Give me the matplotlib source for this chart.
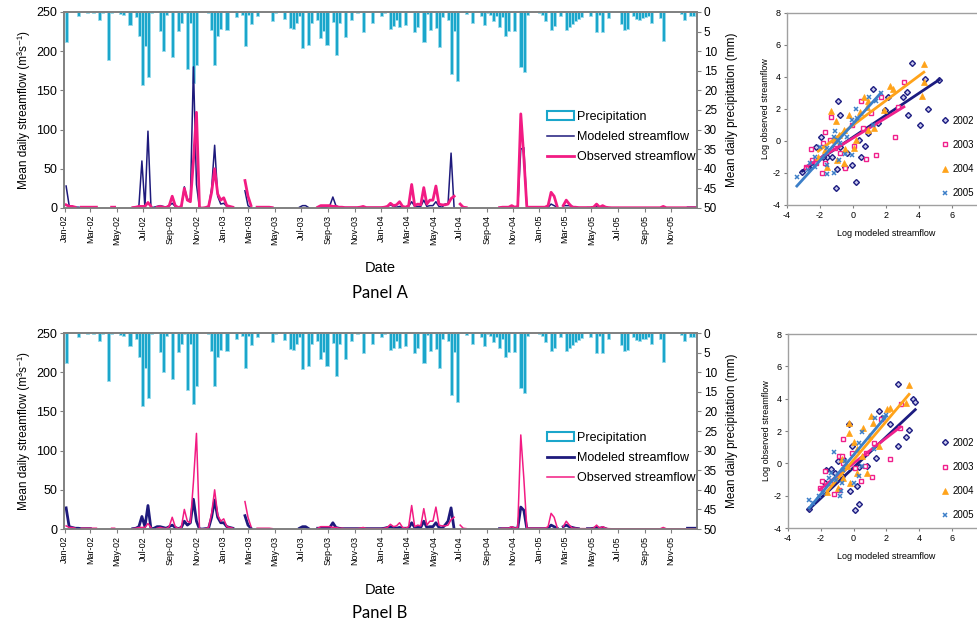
import numpy as np
import pandas as pd
import matplotlib
matplotlib.use("Agg")
import matplotlib.pyplot as plt
import matplotlib.dates as mdates
from matplotlib.patches import Patch
from matplotlib.lines import Line2D

plt.rcParams['font.family'] = ['Liberation Sans', 'DejaVu Sans']
plt.rcParams['axes.unicode_minus'] = False

nan = np.nan

# weekly series, Jan 2002 - Dec 2005 (one row = one quarter of a year)
weeks = pd.date_range("2002-01-01", periods=209, freq="7D")

precip = [
    7.7, 0, 0, 0, 0.9, 0, 0, 0.3, 0, 0.3, 0, 2.0, 0.3,
    0, 12.2, 0.3, 0, 0, 0.4, 0.8, 0, 3.2, 0, 1.4, 6.2, 18.7,
    8.8, 16.5, 0.3, 0, 0, 4.9, 9.9, 0.8, 0, 11.6, 0, 4.9, 2.7,
    0.3, 14.5, 2.7, 18.0, 13.4, 0, 0, 0, 0.3, 4.5, 13.4, 6.2, 4.3,
    0, 4.5, 0, 0, 1.4, 0, 0.7, 8.8, 0.7, 3.1, 0, 0.9, 0,
    0, 0, 0, 2.4, 0.3, 0, 0, 1.8, 0, 4.1, 4.3, 2.8, 0.9,
    9.2, 0, 8.5, 2.8, 0, 2.0, 6.6, 4.9, 8.3, 0, 2.6, 11.0, 2.8,
    0, 6.5, 0, 2.0, 0, 0.3, 0, 5.1, 0, 0, 2.8, 0, 0,
    0.9, 0.3, 0, 4.3, 3.7, 2.0, 3.9, 0, 3.2, 0, 0, 5.1, 3.9,
    0, 7.7, 0.5, 4.5, 0, 4.1, 9.0, 1.4, 0, 2.0, 15.8, 4.9, 17.5,
    0, 0, 0.5, 0, 2.8, 0, 0, 0.9, 3.2, 0.3, 0.7, 2.4, 0.9,
    3.9, 1.4, 6.2, 4.9, 0, 4.9, 0, 14.1, 15.3, 0.7, 0, 0, 0,
    0.3, 0.7, 2.4, 0, 4.5, 3.7, 0, 0.9, 0, 4.5, 3.9, 3.1, 2.4,
    1.7, 1.3, 0, 0, 0.9, 0, 5.1, 0.7, 5.1, 0, 1.5, 0, 0,
    0, 3.1, 4.5, 4.3, 0, 1.1, 1.7, 2.1, 1.5, 1.4, 0.9, 2.8, 0,
    0, 1.5, 7.5, 0, 0, 0, 0, 0, 0.5, 2.1, 0, 0.9, 0.9,
    0,
]

observed = [
    4, 2, 2, 1, nan, 1, 1, 1, 1, 1, 1, nan, nan,
    nan, nan, 1, 1, nan, nan, nan, nan, nan, 0.5, 1, 2, 2,
    2, 7, 2, nan, 1, 2, 1, 0.5, 3, 15, 3, 0.5, 2,
    25, 10, 8, 60, 122, 0, 0, 0.5, 2, 20, 50, 18, 10,
    13, 3, 2, 1, nan, nan, nan, 35, 15, 3, nan, 1, 1,
    1, 1, 1, 0.5, nan, nan, nan, nan, nan, nan, nan, nan, nan,
    nan, nan, nan, nan, nan, 1, 3, 3, 3, 3, 2, 2, 1,
    1, 0.5, 0.5, 0.5, 0.5, 0.5, 1, 2, 0.5, 0.5, 0.5, 0.5, 0.5,
    0.5, 1, 2, 6, 3, 4, 8, 2, 1, 3, 30, 3, 5,
    4, 26, 5, 10, 10, 28, 5, 4, 4, 5, 12, 15, nan,
    5, 1, 0.5, nan, nan, nan, nan, nan, nan, nan, nan, nan, nan,
    0.5, 1, 1, 1, 3, 1, 2, 120, 65, 1, 1, 1, 1,
    1, 1, 1, 3, 20, 15, 2, nan, 3, 10, 5, 1, 1,
    0.5, 0.5, 0.5, 0.5, 0.5, 1, 5, 1, 3, 1, 0.5, 0.3, 0.3,
    0.3, 0.3, 0.3, 0.3, 0.3, 0.3, 0.3, 0.3, 0.3, 0.3, 0.3, 0.3, 0.3,
    0.3, 0.3, 2, 0.3, 0.3, 0.3, 0.3, 0.3, 0.3, 0.3, 0.3, 0.3, 0.3,
    0.3,
]

modeled_a = [
    28, 3, 2, 1, 1, 0.5, 0.5, 0.5, 0.5, nan, nan, nan, nan,
    nan, nan, nan, nan, nan, nan, nan, nan, nan, 0.5, 1, 2, 60,
    0, 98, 0, 1, 2, 3, 2, 1, 3, 6, 2, 0.5, 1,
    27, 10, 12, 180, 30, 0, 0, 0.5, 1, 25, 80, 15, 5,
    6, 2, 1, 1, nan, nan, nan, 22, 3, 0.5, nan, nan, nan,
    nan, nan, nan, nan, nan, nan, nan, nan, nan, nan, nan, nan, 1,
    3, 3, 0.5, nan, nan, 1, 1, 1, 1, 3, 14, 3, 1,
    0.5, 0.5, 0.5, 0.5, 0.5, 0.5, 0.5, 1, 0.5, 0.5, 0.5, 0.5, 0.5,
    0.5, 1, 2, 4, 2, 1, 2, 1, 1, 2, 8, 2, 2,
    2, 10, 2, 3, 3, 8, 2, 1, 5, 5, 70, 0, nan,
    nan, nan, nan, nan, nan, nan, nan, nan, nan, nan, nan, nan, nan,
    0.5, 0.5, 0.5, 0.5, 2, 1, 1, 75, 77, 0.5, 0.5, 0.5, 0.5,
    0.5, 0.5, 0.5, 1, 5, 3, 1, nan, 3, 3, 3, 2, 1,
    0.5, nan, nan, 0.5, 0.5, 1, 2, 1, 2, 0.5, nan, nan, nan,
    nan, nan, nan, nan, nan, nan, nan, nan, nan, nan, nan, nan, nan,
    nan, nan, nan, nan, nan, nan, nan, nan, nan, nan, 1, 1, 1,
    1,
]

modeled_b = [
    27, 3, 2, 1, 1, 0.5, 0.5, 0.5, 0.5, nan, nan, nan, nan,
    nan, nan, nan, nan, nan, nan, nan, nan, nan, 0.5, 1, 3, 16,
    3, 30, 0, 1, 3, 3, 2, 1, 3, 5, 2, 0.5, 2,
    10, 5, 8, 38, 10, 0, 0, 0.5, 1, 15, 37, 15, 8,
    8, 3, 2, 1, nan, nan, nan, 17, 5, 1, nan, nan, nan,
    nan, nan, nan, nan, nan, nan, nan, nan, nan, nan, nan, nan, 1,
    3, 3, 0.5, nan, nan, 1, 1, 1, 1, 2, 8, 2, 1,
    0.5, 0.5, 0.5, 0.5, 0.5, 0.5, 0.5, 0.5, 0.5, 0.5, 0.5, 0.5, 0.5,
    0.5, 1, 2, 3, 2, 1, 2, 1, 1, 1, 8, 2, 2,
    2, 10, 2, 3, 3, 8, 2, 1, 5, 10, 27, 0, nan,
    nan, nan, nan, nan, nan, nan, nan, nan, nan, nan, nan, nan, nan,
    0.5, 0.5, 0.5, 0.5, 2, 1, 1, 28, 24, 0.5, 0.5, 0.5, 0.5,
    0.5, 0.5, 0.5, 1, 5, 3, 1, nan, 3, 5, 3, 2, 1,
    0.5, nan, nan, 0.5, 0.5, 1, 2, 1, 2, 0.5, nan, nan, nan,
    nan, nan, nan, nan, nan, nan, nan, nan, nan, nan, nan, nan, nan,
    nan, nan, nan, nan, nan, nan, nan, nan, nan, nan, 1, 1, 1,
    1,
]

# log-log scatter, panel A
years = ["2002", "2003", "2004", "2005"]
a02_x = [3.58, 4.37, 4.57, 4.06, 3.38, 3.27, 3.07, 2.14, 1.52, 1.21, -0.9, 0.73, 0.52, -0.07, 0.17, -1.0,
         -0.96, -1.93, -2.24, -0.45, -0.76, -0.34, -3.07, -1.58, 0.38, -0.76, -1.27, 0.9, 1.93, 5.24, -2.72, -1.79]
a02_y = [4.87, 3.89, 2.0, 1.0, 1.61, 3.05, 2.78, 2.74, 1.11, 3.24, 2.47, -0.29, -0.98, -1.5, -2.54, -2.92,
         -1.77, 0.23, -0.37, -1.6, -0.35, -0.77, -1.92, -0.98, 0.07, 1.63, -0.98, 0.48, 1.95, 3.82, -1.6, -1.0]
a03_x = [3.1, 1.72, 0.52, -1.33, -1.69, -1.38, -2.55, -1.69, -1.9, -2.24, -0.45, 0.07, 0.79, 1.41, 2.59,
         -0.03, 0.59, -0.76, -1.11, -1.79, 2.76, 1.1, -2.51, -2.82]
a03_y = [3.66, 2.74, 2.53, 1.53, 0.59, 0.07, -0.5, -1.4, -1.98, -1.4, -1.7, -0.29, -1.14, -0.89, 0.28,
         1.0, 0.8, -0.77, -0.46, -0.14, 2.11, 1.74, -1.19, -1.6]
a04_x = [4.31, 4.31, 4.2, 2.24, 2.45, 0.94, 0.84, 0.69, -0.24, 0.42, 1.89, -1.0, -1.33, -0.55, -0.82, 0.17,
         0.07, -0.49, -1.69, -0.96, -1.54, -0.55, -2.1, -1.07, 0.9, 1.31]
a04_y = [4.83, 3.66, 2.84, 3.45, 3.24, 2.47, 2.11, 2.78, 1.63, 1.84, 1.95, 1.28, 1.88, 0.69, 0.38, 0.07,
         -0.46, -0.5, -0.56, -1.19, -1.6, -1.35, -0.98, 0.07, 0.69, 0.8]
a05_x = [1.68, 0.96, 0.17, 0.28, -0.03, -1.07, -1.13, -0.92, -1.54, -1.99, -2.31, -2.62, -1.54, -1.54, -2.72,
         -3.4, -0.45, -0.82, -0.03, -1.17, -2.31, -0.76, -0.34, 1.21, 1.41]
a05_y = [2.99, 2.78, 1.99, 1.42, 1.32, 0.65, 0.28, 0.07, -0.46, -0.35, -1.02, -1.35, -1.5, -2.06, -1.81,
         -2.27, -0.81, -1.19, -0.87, -2.02, -1.65, -0.14, 0.28, 1.0, 2.47]
a_slope = [0.686, 0.63, 0.77, 1.14]
a_icpt = [0.23, 0.18, 0.98, 1.06]

# log-log scatter, panel B
b02_x = [2.72, 3.62, 3.77, 3.41, 3.2, 2.72, 2.2, 1.53, 1.74, 1.37, -0.3, -0.1, -0.62, 0.32, 0.22, -0.2,
         0.32, 0.07, -0.93, -1.35, -1.66, -1.14, -0.72, -2.71, -1.77, 0.84]
b02_y = [4.89, 3.96, 3.8, 2.06, 1.64, 1.06, 2.41, 3.24, 2.82, 0.34, 2.45, 1.06, 0.24, -0.22, -1.42, -1.73,
         -2.5, -2.87, 0.17, -0.34, -0.39, -0.6, -0.8, -2.83, -1.21, -0.18]
b03_x = [2.87, 1.68, 2.83, 2.2, 1.11, 0.43, 0.11, 0.7, -0.62, -0.89, -0.72, -1.72, -1.93, -1.18, -0.62,
         -0.1, 1.26, -1.45, -0.89, -2.06, 0.74]
b03_y = [3.69, 2.72, 2.2, 0.3, -0.86, -1.11, -0.28, -0.14, 1.52, 0.48, 0.44, -0.45, -1.11, -1.9, 0.03,
         0.65, 1.27, -1.21, -1.63, -1.52, 0.65]
b04_x = [3.39, 3.2, 2.2, 2.03, 1.05, 1.22, -0.3, -0.3, 0.57, 0.95, 0.01, 0.22, 0.53, -0.41, -0.66, -0.2,
         -0.93, -0.72, 0.84, 1.57, -1.6, 0.22]
b04_y = [4.83, 3.71, 3.45, 3.34, 2.93, 2.51, 2.51, 1.89, 2.2, 1.69, 1.33, 0.86, 0.44, -0.18, -0.9, -1.21,
         -1.52, 0.24, -0.59, 1.06, -1.79, -0.59]
b05_x = [1.89, 1.99, 1.32, 0.49, 0.36, -1.18, -0.51, -0.62, -1.35, -1.52, -0.78, -0.83, -2.08, -2.5, -2.71,
         0.01, 0.32, 0.49, -0.72, -1.87, -1.04, 1.26]
b05_y = [2.89, 2.97, 2.82, 1.93, 1.27, 0.69, 0.13, -0.39, -0.6, -0.9, -1.73, -2.04, -2.0, -2.46, -2.25,
         -1.21, -0.8, -0.18, -1.21, -1.83, -1.0, 0.86]
b_slope = [0.95, 0.786, 1.2, 1.21]
b_icpt = [-0.26, 0.0, 0.2, 0.51]

bar_col = '#1BA6CB'
bar_edge = '#9ADCEC'
navy = '#1E1A7C'
pink = '#F21B83'
grey = '#808080'
yr_colors = ['#1C1C80', '#F0208C', '#FFA31A', '#3C7FC8']

fig = plt.figure(figsize=(9.78, 6.24), dpi=100)


def streamflow_panel(rect, modeled, mod_lw, obs_lw):
    ax = fig.add_axes(rect)
    ax2 = ax.twinx()
    ax.set_zorder(ax2.get_zorder() + 1)
    ax.patch.set_visible(False)

    ax2.bar(weeks, precip, width=7, align='edge', color=bar_col,
            edgecolor=bar_edge, linewidth=0.6)
    ax2.set_ylim(50, 0)
    ax2.set_yticks(range(0, 51, 5))
    ax2.tick_params(axis='y', labelsize=8.5, length=3, color=grey, pad=2)
    ax2.set_ylabel('Mean daily precipitation (mm)', fontsize=8.5, labelpad=6)

    mid = weeks + pd.Timedelta(days=3)
    ax.plot(mid, modeled, color=navy, lw=mod_lw)
    ax.plot(mid, observed, color=pink, lw=obs_lw)
    ax.set_ylim(0, 250)
    ax.set_yticks(range(0, 251, 50))
    ax.set_xlim(pd.Timestamp('2001-12-30'), pd.Timestamp('2005-12-31'))
    ax.xaxis.set_major_locator(mdates.MonthLocator(bymonth=[1, 3, 5, 7, 9, 11]))
    ax.xaxis.set_major_formatter(mdates.DateFormatter('%b-%y'))
    ax.tick_params(axis='x', labelsize=6.5, rotation=90, length=3, color=grey, pad=2)
    ax.tick_params(axis='y', labelsize=9, length=3, color=grey, pad=2)
    ax.set_ylabel('Mean daily streamflow (m³s⁻¹)', fontsize=8.5, labelpad=4)

    for a in (ax, ax2):
        for s in a.spines.values():
            s.set_color(grey)
            s.set_linewidth(1.2)

    handles = [Patch(facecolor='white', edgecolor=bar_col, linewidth=1.5),
               Line2D([], [], color=navy, lw=mod_lw),
               Line2D([], [], color=pink, lw=obs_lw)]
    ax.legend(handles, ['Precipitation', 'Modeled streamflow', 'Observed streamflow'],
              loc='upper left', bbox_to_anchor=(0.755, 0.52), frameon=False,
              fontsize=9, handlelength=2.2, handleheight=0.7, handletextpad=0.2,
              labelspacing=0.65, borderaxespad=0)
    return ax


def scatter_panel(rect, xs_list, ys_list, slopes, icpts):
    ax = fig.add_axes(rect)
    styles = [dict(marker='D', ms=3, mfc='#C8C8EC', mec=yr_colors[0], mew=1.0),
              dict(marker='s', ms=3, mfc='white', mec=yr_colors[1], mew=1.0),
              dict(marker='^', ms=4, mfc=yr_colors[2], mec=yr_colors[2], mew=0.5),
              dict(marker='x', ms=3.5, mec=yr_colors[3], mew=1.1)]
    for xs, ys, m, b, st, c in zip(xs_list, ys_list, slopes, icpts, styles, yr_colors):
        ax.plot(xs, ys, ls='none', **st)
        xl = np.array([min(xs), max(xs)])
        ax.plot(xl, m * xl + b, color=c, lw=2)
    handles = [Line2D([], [], ls='none', **st) for st in styles]
    ax.legend(handles, years, loc='upper left', bbox_to_anchor=(0.755, 0.485),
              frameon=False, fontsize=7, handlelength=1.0, handletextpad=0.3,
              labelspacing=1.45, borderaxespad=0)
    ax.set_xlim(-4, 8)
    ax.set_ylim(-4, 8)
    ax.set_xticks(range(-4, 7, 2))
    ax.set_yticks(range(-4, 9, 2))
    ax.tick_params(labelsize=6.5, length=2.5, color=grey, pad=2)
    ax.set_xlabel('Log modeled streamflow', fontsize=6.5, labelpad=6)
    ax.set_ylabel('Log observed streamflow', fontsize=6.5, labelpad=2)
    for s in ax.spines.values():
        s.set_color('#A0A0A0')
        s.set_linewidth(1.0)
    return ax


streamflow_panel([0.0654, 0.6667, 0.6473, 0.3141], modeled_a, 1.1, 2.0)
streamflow_panel([0.0654, 0.1522, 0.6473, 0.3141], modeled_b, 2.0, 1.1)

scatter_panel([0.8047, 0.6715, 0.202, 0.3077],
              [a02_x, a03_x, a04_x, a05_x], [a02_y, a03_y, a04_y, a05_y], a_slope, a_icpt)
scatter_panel([0.8057, 0.1538, 0.201, 0.3109],
              [b02_x, b03_x, b04_x, b05_x], [b02_y, b03_y, b04_y, b05_y], b_slope, b_icpt)

fig.text(380 / 978, 1 - 268 / 624, 'Date', ha='center', va='center', fontsize=10.5)
fig.text(380 / 978, 1 - 293 / 624, 'Panel A', ha='center', va='center', fontsize=12, family='Lato')
fig.text(380 / 978, 1 - 590 / 624, 'Date', ha='center', va='center', fontsize=10.5)
fig.text(380 / 978, 1 - 613 / 624, 'Panel B', ha='center', va='center', fontsize=12, family='Lato')

fig.savefig('out.png', dpi=100)
